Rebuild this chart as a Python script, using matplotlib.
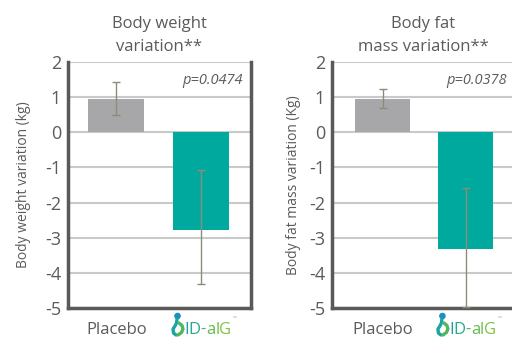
import matplotlib
matplotlib.use("Agg")
import matplotlib.pyplot as plt
from matplotlib.lines import Line2D
from matplotlib.patches import Circle
from matplotlib.transforms import IdentityTransform

plt.rcParams["font.family"] = ["Open Sans", "DejaVu Sans"]
plt.rcParams["axes.unicode_minus"] = False

# data
groups = ["Placebo", "ID-alG"]
weight_mean = [0.95, -2.78]
weight_err_low = [0.45, 1.54]
weight_err_high = [0.47, 1.70]
fat_mean = [0.95, -3.31]
fat_err_low = [0.27, 1.66]
fat_err_high = [0.27, 1.73]
titles = ["Body weight\nvariation**", "Body fat\nmass variation**"]
ylabels = ["Body weight variation (kg)", "Body fat mass variation (Kg)"]
pvalues = ["p=0.0474", "p=0.0378"]
yticks = [2, 1, 0, -1, -2, -3, -4, -5]

# logo letters and their gradient colours
logo_letters = ["I", "D", "-", "a", "l", "G"]
logo_colors = ["#1e9bb3", "#27a98c", "#4cb566", "#62bb50", "#72c046", "#80c441"]

bar_colors = ["#a7a7a9", "#00a99d"]
text_gray = "#5b5b5b"
spine_gray = "#5d5858"
err_color = "#8c8c7c"

W, H = 512, 340
fig = plt.figure(figsize=(W / 100, H / 100), dpi=100)
ax1 = fig.add_axes([68 / W, 32 / H, 183 / W, 246 / H])
ax2 = fig.add_axes([332 / W, 32 / H, 183 / W, 246 / H])
renderer = fig.canvas.get_renderer()
ident = IdentityTransform()


def draw_logo(cx):
    # cx: pixel centre of the bar; image y coords turned into display coords
    def py(y):
        return H - y
    xs = cx - 29
    # swirl
    fig.add_artist(Line2D([xs + 5, xs + 4.5, xs + 3, xs + 1, xs + 1.5, xs + 4],
                          [py(319), py(323), py(326), py(329), py(333), py(335)],
                          transform=ident, color="#1ca4a0", linewidth=2.4,
                          solid_capstyle="round"))
    fig.add_artist(Line2D([xs + 7, xs + 10, xs + 11, xs + 9.5, xs + 6],
                          [py(323), py(325.5), py(329), py(332.5), py(335)],
                          transform=ident, color="#52b65a", linewidth=2.4,
                          solid_capstyle="round"))
    fig.add_artist(Circle((xs + 5.5, py(316)), 2.6, transform=ident,
                          color="#1b8ec5"))
    # letters
    x = cx - 17
    for s, c in zip(logo_letters, logo_colors):
        t = fig.text(x, py(333.5), s, transform=ident, fontsize=12,
                     color=c, ha="left", va="baseline")
        x = t.get_window_extent(renderer).x1
    fig.text(x + 1, py(318), "\u2122", transform=ident, fontsize=3.5,
             color="#a0a0a0", ha="left", va="center")


panels = [
    (ax1, weight_mean, weight_err_low, weight_err_high, (-0.57, 1.59), True, 10),
    (ax2, fat_mean, fat_err_low, fat_err_high, (-0.61, 1.59), False, 5.5),
]

for i, (ax, means, elow, ehigh, xlim, right_spine, lpad) in enumerate(panels):
    x = list(range(len(groups)))
    ax.bar(x, means, width=0.66, color=bar_colors, zorder=3)
    ax.errorbar(x, means, yerr=[elow, ehigh], fmt="none", ecolor=err_color,
                elinewidth=1.0, capsize=3, capthick=1.0, zorder=4)
    ax.set_xlim(*xlim)
    ax.set_ylim(-5, 2)
    ax.set_yticks(yticks)
    ax.set_yticklabels([str(t) for t in yticks])
    ax.tick_params(axis="y", length=0, pad=5, labelsize=13, labelcolor=text_gray)
    ax.tick_params(axis="x", length=0)
    ax.set_xticks([])
    ax.grid(True, axis="y", color="#c9c9c9", linewidth=1.5, zorder=0)
    ax.set_axisbelow(True)
    for s in ["left", "bottom", "right"]:
        ax.spines[s].set_color(spine_gray)
        ax.spines[s].set_linewidth(2.5)
    ax.spines["top"].set_visible(False)
    ax.spines["right"].set_visible(right_spine)
    ax.set_ylabel(ylabels[i], fontsize=10, color=text_gray, labelpad=lpad)
    ax.set_title(titles[i], fontsize=12, color=text_gray, pad=8, linespacing=1.55)
    ax.text(0.955, 0.925, pvalues[i], transform=ax.transAxes, ha="right",
            va="center", fontsize=10.5, style="italic", color=text_gray)
    ax.text(x[0], -5.62, groups[0], ha="center", va="center", fontsize=12,
            color=text_gray)
    cx = ax.transData.transform((x[1], 0))[0]
    draw_logo(cx)

fig.savefig("out.png", dpi=100)
